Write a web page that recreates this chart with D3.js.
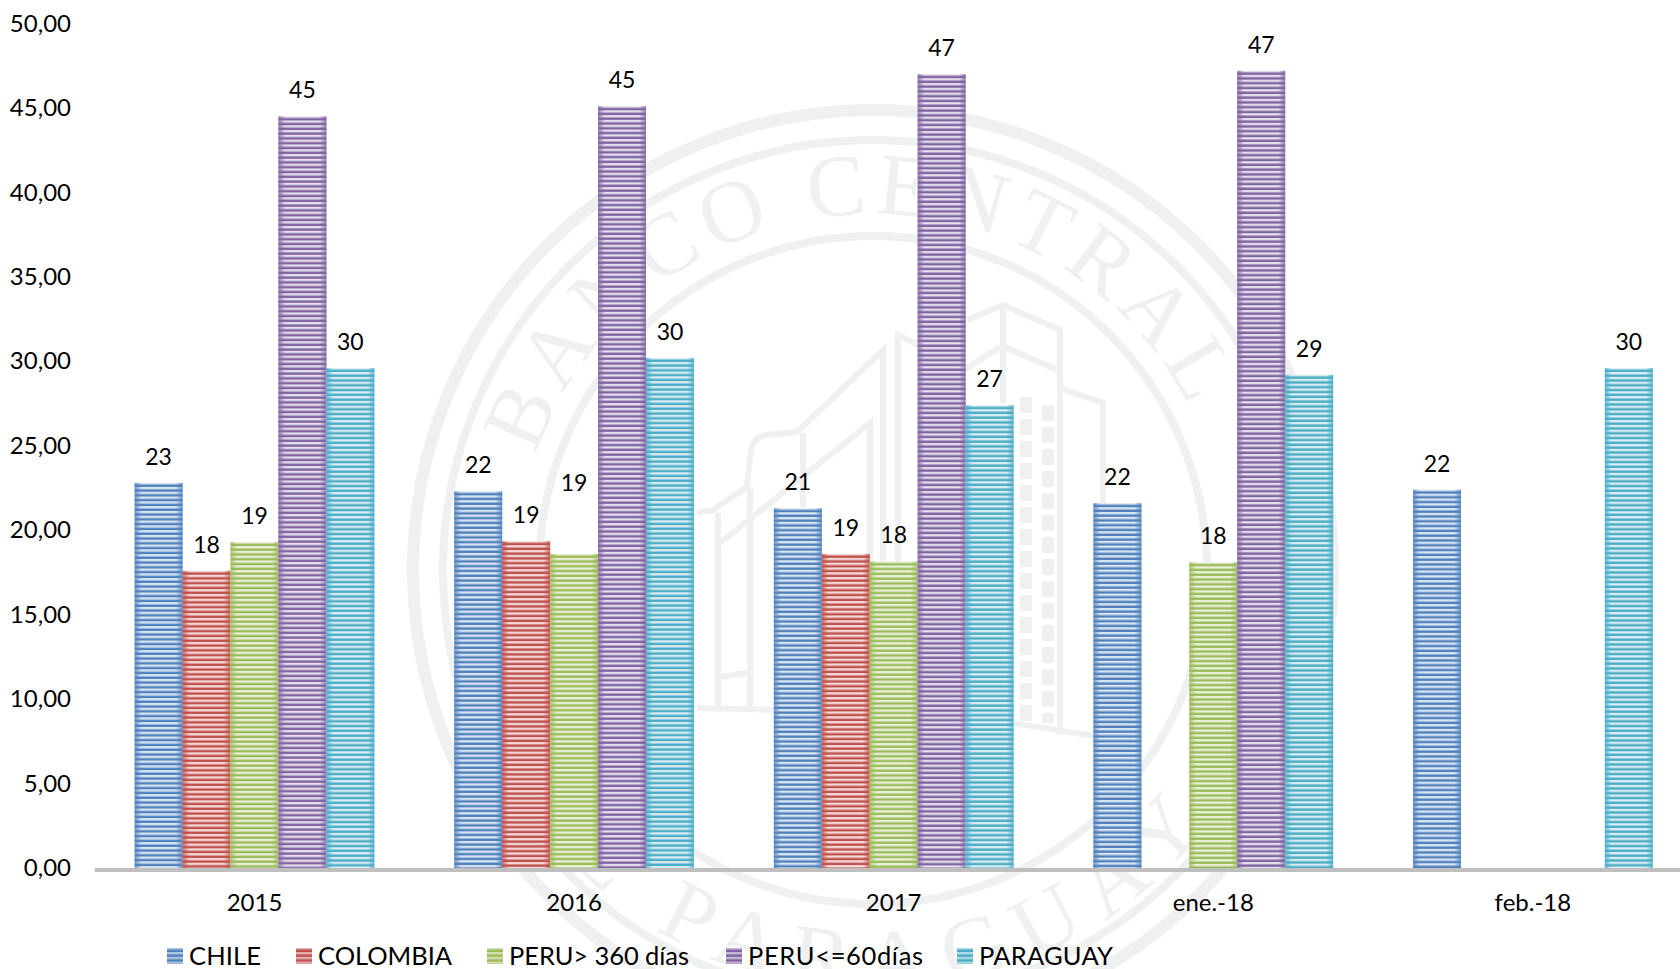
<!DOCTYPE html>
<html>
<head>
<meta charset="utf-8">
<script src="https://cdn.jsdelivr.net/npm/d3@7"></script>
<style>
  html, body { margin: 0; padding: 0; background: #fff; overflow: hidden; }
  svg { display: block; font-family: Lato, "Open Sans", sans-serif; fill: #000; }
</style>
</head>
<body>
<svg id="chart" width="1680" height="969"></svg>
<script>
const categories = ["2015", "2016", "2017", "ene.-18", "feb.-18"]
const seriesNames = ["CHILE", "COLOMBIA", "PERU> 360 días", "PERU<=60días", "PARAGUAY"]
const seriesColors = ["#4f81bd", "#c0504d", "#9bbb59", "#8064a2", "#4bacc6"]
const seriesTints = ["#d9e4f1", "#f2d9d8", "#e9f0da", "#e3ddeb", "#d8edf3"]

const chile = [22.8, 22.3, 21.3, 21.6, 22.4]
const colombia = [17.6, 19.35, 18.6, null, null]
const peruLong = [19.3, 18.6, 18.15, 18.1, null]
const peruShort = [44.5, 45.1, 47.0, 47.2, null]
const paraguay = [29.6, 30.2, 27.4, 29.2, 29.6]
const seriesValues = [chile, colombia, peruLong, peruShort, paraguay]

const yTicks = [0, 5, 10, 15, 20, 25, 30, 35, 40, 45, 50]
const legendSwatchX = [167, 296, 487, 726, 957]
const legendTextWidths = [72, 134, 180, 175, 134]

const width = 1680
const height = 969
const baseline = 868
const stripePeriod = 4.8

const svg = d3.select("#chart")
const defs = svg.append("defs")

const x = d3.scaleBand()
  .domain(categories)
  .range([94.7, 1692.7])
  .paddingInner(0.25)
  .paddingOuter(0.125)

const xInner = d3.scaleBand()
  .domain(seriesNames)
  .range([0, x.bandwidth()])

const y = d3.scaleLinear()
  .domain([0, 50])
  .range([baseline, 23.5])

// striped fills, with a soft darker edge laid over each bar
seriesNames.forEach((name, i) => {
  const pattern = defs.append("pattern")
    .attr("id", `stripes-${i}`)
    .attr("patternUnits", "userSpaceOnUse")
    .attr("width", 8)
    .attr("height", stripePeriod)
    .attr("y", baseline)
  pattern.append("rect")
    .attr("width", 8)
    .attr("height", stripePeriod)
    .attr("fill", seriesTints[i])
  pattern.append("rect")
    .attr("y", stripePeriod / 2)
    .attr("width", 8)
    .attr("height", stripePeriod / 2)
    .attr("fill", seriesColors[i])

  const edge = defs.append("linearGradient").attr("id", `edge-${i}`)
  const stops = [[0, 0.8], [0.14, 0], [0.86, 0], [1, 0.8]]
  stops.forEach(([offset, opacity]) => {
    edge.append("stop")
      .attr("offset", offset)
      .attr("stop-color", seriesColors[i])
      .attr("stop-opacity", opacity)
  })
})

/**
 * Draws the faint bank seal behind the chart.
 */
function drawSeal() {
  const sealColor = "#eef1f0"
  const cx = 873
  const cy = 570
  const seal = svg.append("g")
    .attr("fill", "none")
    .attr("stroke", sealColor)

  const rings = [[460, 12], [430, 8], [334, 8]]
  seal.selectAll("circle")
    .data(rings)
    .join("circle")
    .attr("cx", cx)
    .attr("cy", cy)
    .attr("r", (d) => d[0])
    .attr("stroke-width", (d) => d[1])

  const buildingLines = [
    "M697,513 L713,510 L747,487 L750,457 Q752,436 767,435 L797,432 L883,350 L883,712",
    "M720,543 L870,423 L870,712",
    "M718,513 L718,708", "M750,487 L750,708", "M803,433 L803,507",
    "M720,677 L747,673", "M697,708 L883,712",
    "M898,710 L898,335 L967,368 L1000,347", "M967,320 L1003,305 L1060,330 L1060,735",
    "M1003,305 L1003,403", "M1005,347 L1057,370",
    "M1060,388 L1103,403 L1103,740", "M1013,723 L1100,737",
  ]
  seal.selectAll("path.building")
    .data(buildingLines)
    .join("path")
    .attr("class", "building")
    .attr("d", (d) => d)
    .attr("stroke-width", 6)

  seal.append("path")
    .attr("d", "M1026,397 L1026,723 M1048,405 L1048,723")
    .attr("stroke-width", 12)
    .attr("stroke-dasharray", "16 6")

  const topArc = d3.path()
  topArc.arc(cx, cy, 356, Math.PI * 0.84, Math.PI * 2.12)
  const bottomArc = d3.path()
  bottomArc.arc(cx, cy, 420, Math.PI * 0.986, Math.PI * 0.086, true)

  defs.append("path").attr("id", "seal-top").attr("d", topArc.toString())
  defs.append("path").attr("id", "seal-bottom").attr("d", bottomArc.toString())

  const sealText = svg.append("g")
    .attr("fill", sealColor)
    .style("font-family", '"Liberation Serif", serif')
    .style("font-size", "88px")

  sealText.append("text")
    .append("textPath")
    .attr("href", "#seal-top")
    .attr("startOffset", "50%")
    .attr("text-anchor", "middle")
    .attr("letter-spacing", 8)
    .text("BANCO CENTRAL")

  sealText.append("text")
    .append("textPath")
    .attr("href", "#seal-bottom")
    .attr("startOffset", "50%")
    .attr("text-anchor", "middle")
    .attr("letter-spacing", 20)
    .text("DEL PARAGUAY")
}

drawSeal()

const rows = categories.flatMap((category, c) =>
  seriesNames.map((name, s) => ({ category, name, s, value: seriesValues[s][c] })))
  .filter((d) => d.value !== null)

const bars = svg.append("g")
  .selectAll("g")
  .data(rows)
  .join("g")
  .attr("transform", (d) => `translate(${x(d.category) + xInner(d.name)}, ${y(d.value)})`)

bars.append("rect")
  .attr("width", xInner.bandwidth())
  .attr("height", (d) => baseline - y(d.value))
  .attr("fill", (d) => `url(#stripes-${d.s})`)

bars.append("rect")
  .attr("width", xInner.bandwidth())
  .attr("height", (d) => baseline - y(d.value))
  .attr("fill", (d) => `url(#edge-${d.s})`)

// this one label sits well above its bar in the original
const labelOffset = (d) => (d.category === "2016" && d.s === 2 ? 71 : 26)

svg.append("g")
  .selectAll("text")
  .data(rows)
  .join("text")
  .attr("x", (d) => x(d.category) + xInner(d.name) + xInner.bandwidth() / 2)
  .attr("y", (d) => y(d.value) - labelOffset(d))
  .attr("dy", "0.35em")
  .attr("text-anchor", "middle")
  .style("font-size", "23px")
  .text((d) => d3.format(".0f")(d.value))

const yAxis = svg.append("g")
  .attr("transform", "translate(71, 0)")
  .call(d3.axisLeft(y)
    .tickValues(yTicks)
    .tickSize(0)
    .tickPadding(0)
    .tickFormat((d) => d3.format(".2f")(d).replace(".", ",")))
yAxis.select(".domain").remove()

const xAxis = svg.append("g")
  .attr("transform", `translate(0, ${baseline + 2})`)
  .call(d3.axisBottom(x).offset(0).tickSize(0).tickPadding(24))
xAxis.select(".domain")
  .attr("stroke", "#bfbfbf")
  .attr("stroke-width", 4)

svg.selectAll(".tick text")
  .attr("fill", "#000")
  .style("font-family", "Lato, sans-serif")
  .style("font-size", "24px")

const legend = svg.append("g")
  .selectAll("g")
  .data(seriesNames)
  .join("g")
  .attr("transform", (d, i) => `translate(${legendSwatchX[i]}, 948)`)

legend.append("rect")
  .attr("width", 16)
  .attr("height", 16)
  .attr("fill", (d, i) => `url(#stripes-${i})`)

legend.append("rect")
  .attr("width", 16)
  .attr("height", 16)
  .attr("fill", (d, i) => seriesColors[i])
  .attr("fill-opacity", 0.3)

legend.append("text")
  .attr("x", 22)
  .attr("y", 8)
  .attr("dy", "0.35em")
  .attr("textLength", (d, i) => legendTextWidths[i])
  .attr("lengthAdjust", "spacing")
  .style("font-size", "25.5px")
  .text((d) => d)
</script>
</body>
</html>
